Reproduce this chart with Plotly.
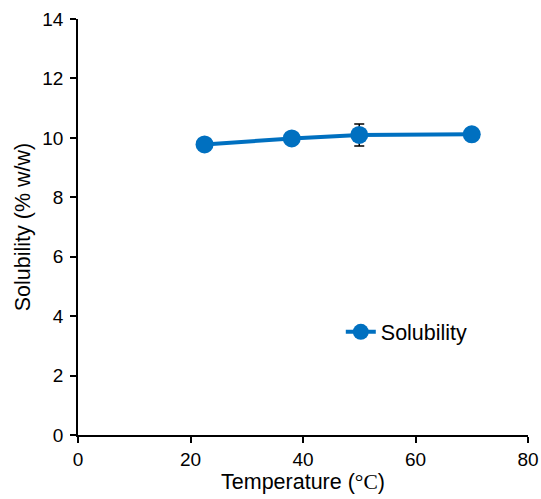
import plotly.graph_objects as go

# Solubility measurements vs temperature
temperature = [22.5, 38, 50, 70]
solubility = [9.78, 9.98, 10.1, 10.12]
error = [0, 0, 0.37, 0]

blue = "#0070C0"

fig = go.Figure()
fig.add_trace(go.Scatter(
    x=temperature, y=solubility,
    mode="lines+markers",
    name="Solubility",
    line=dict(color=blue, width=4),
    marker=dict(color=blue, size=18),
    error_y=dict(type="data", array=error, visible=True,
                 color="black", thickness=1.5, width=5),
))

axis_common = dict(
    showline=True, linecolor="black", linewidth=1.5,
    ticks="outside", ticklen=6, tickcolor="black", tickwidth=1.5,
    showgrid=False, zeroline=False, automargin=False,
    tickfont=dict(family="Liberation Sans, Arial", size=19, color="black"),
)

fig.update_layout(
    width=541, height=499,
    margin=dict(l=78, r=13, t=19, b=64),
    plot_bgcolor="white", paper_bgcolor="white",
    font=dict(family="Liberation Sans, Arial", color="black"),
    xaxis=dict(range=[0, 80], dtick=20, ticklabelstandoff=0,
               title=dict(text='Temperature (<span style="font-family:Liberation Serif">°C</span>)',
                          font=dict(size=21.5), standoff=2),
               **axis_common),
    yaxis=dict(range=[0, 14], dtick=2, ticklabelstandoff=3,
               title=dict(text="Solubility (% w/w)", font=dict(size=21.5), standoff=6),
               **axis_common),
    legend=dict(x=0.584, y=0.248, xanchor="left", yanchor="middle",
                font=dict(size=21.5), bgcolor="rgba(0,0,0,0)"),
    showlegend=True,
)

fig.write_html("out.html")
